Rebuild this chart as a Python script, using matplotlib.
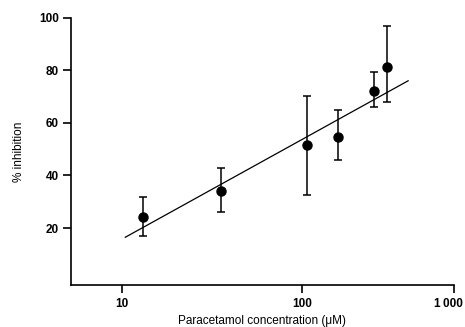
import numpy as np
import matplotlib
matplotlib.use("Agg")
import matplotlib.pyplot as plt
import matplotlib.transforms as mtransforms

# Data
conc = [13.1, 35.5, 108, 172, 296, 362]
inhibition = [24.1, 34.0, 51.4, 54.7, 72.1, 81.1]
err_low = [17.1, 26.2, 32.4, 45.7, 65.9, 68.0]
err_high = [31.9, 42.8, 70.2, 64.8, 79.3, 96.9]
fit_x = [10.4, 500]
fit_y = [16.5, 76.0]
xticks = [10, 100, 1000]
xticklabels = ["10", "100", "1\u2009000"]
yticks = [20, 40, 60, 80, 100]

R = 152 / 180.0

def fwd(x):
    l = np.log10(np.clip(np.asarray(x, dtype=float), 1e-12, None))
    return np.where(l <= 2, l, 2 + (l - 2) * R)

def inv(u):
    u = np.asarray(u, dtype=float)
    return np.where(u <= 2, 10 ** u, 10 ** (2 + (u - 2) / R))

plt.rcParams['font.family'] = ['Liberation Sans', 'DejaVu Sans']

fig = plt.figure(figsize=(4.65, 3.27), dpi=100)
ax = fig.add_axes([0.153, 0.128, 0.823, 0.818])
ax.set_xscale('function', functions=(fwd, inv))

yerr = [np.array(inhibition) - np.array(err_low), np.array(err_high) - np.array(inhibition)]
ax.errorbar(conc, inhibition, yerr=yerr, fmt='o', color='black', markersize=6.5,
            ecolor='black', elinewidth=1.1, capsize=3, capthick=1.1, zorder=3)
ax.plot(fit_x, fit_y, color='black', lw=0.9, zorder=2)

ax.set_xlim(5.2, 1000)
ax.set_ylim(-1.7, 100)
ax.set_xticks(xticks)
ax.set_xticklabels(xticklabels)
ax.xaxis.set_minor_locator(matplotlib.ticker.NullLocator())
ax.set_yticks(yticks)

for s in ['top', 'right']:
    ax.spines[s].set_visible(False)
for s in ['left', 'bottom']:
    ax.spines[s].set_linewidth(1.2)
ax.tick_params(axis='both', direction='out', length=6, width=1.2, labelsize=8.5, pad=3)
for lab in ax.get_xticklabels() + ax.get_yticklabels():
    lab.set_fontweight('bold')

# nudge the last x tick label so it stays inside the figure
last = ax.get_xticklabels()[-1]
last.set_transform(last.get_transform() + mtransforms.ScaledTranslation(-5 / 100, 0, fig.dpi_scale_trans))

ax.set_xlabel("Paracetamol concentration (\u03bcM)", fontsize=8.5, labelpad=4)
ax.set_ylabel("% inhibition", fontsize=8.5, labelpad=10)

fig.savefig("out.png", dpi=100)
